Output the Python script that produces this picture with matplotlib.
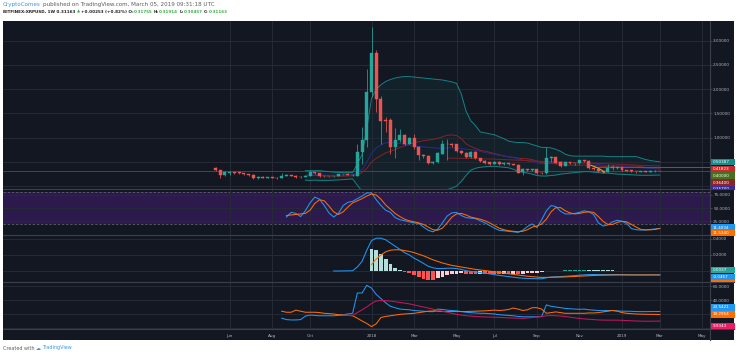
import numpy as np
import pandas as pd
import matplotlib
matplotlib.use('Agg')
import matplotlib.pyplot as plt
import matplotlib.dates as mdates
from matplotlib.patches import Rectangle
from matplotlib.lines import Line2D
from matplotlib.transforms import Bbox
from matplotlib.ticker import FuncFormatter

# ---------------- data (weekly XRPUSD, Bitfinex) ----------------
first_week = '2017-05-15'
opens = [0.38, 0.33, 0.23, 0.28, 0.285, 0.29, 0.27, 0.245, 0.225, 0.16,
         0.195, 0.175, 0.185, 0.175, 0.16, 0.21, 0.235, 0.22, 0.195, 0.19,
         0.21, 0.29, 0.27, 0.21, 0.205, 0.20, 0.215, 0.245, 0.255, 0.24,
         0.22, 0.70, 0.96, 1.95, 2.75, 1.80, 1.36, 1.36, 0.81, 0.95,
         1.05, 0.88, 1.00, 0.81, 0.65, 0.63, 0.47, 0.49, 0.67, 0.86,
         0.87, 0.86, 0.73, 0.68, 0.60, 0.70, 0.58, 0.52, 0.49, 0.46,
         0.50, 0.46, 0.47, 0.455, 0.44, 0.285, 0.35, 0.33, 0.35, 0.28,
         0.27, 0.58, 0.60, 0.49, 0.42, 0.49, 0.47, 0.475, 0.53, 0.51,
         0.38, 0.35, 0.31, 0.29, 0.385, 0.38, 0.395, 0.33, 0.325, 0.31,
         0.30, 0.305, 0.30, 0.31, 0.31755]
highs = [0.40, 0.34, 0.31, 0.31, 0.30, 0.30, 0.28, 0.26, 0.25, 0.21,
         0.20, 0.195, 0.19, 0.19, 0.28, 0.26, 0.24, 0.225, 0.20, 0.215,
         0.31, 0.30, 0.28, 0.215, 0.21, 0.22, 0.25, 0.26, 0.27, 0.26,
         0.88, 1.23, 2.42, 3.29, 2.80, 1.87, 1.43, 1.40, 1.21, 1.18,
         1.08, 1.02, 1.07, 0.82, 0.67, 0.64, 0.52, 0.70, 0.95, 0.97,
         0.90, 0.88, 0.75, 0.70, 0.72, 0.72, 0.59, 0.55, 0.50, 0.51,
         0.51, 0.49, 0.48, 0.46, 0.45, 0.37, 0.36, 0.36, 0.36, 0.30,
         0.81, 0.63, 0.61, 0.52, 0.50, 0.49, 0.48, 0.55, 0.54, 0.53,
         0.40, 0.36, 0.32, 0.46, 0.43, 0.40, 0.40, 0.34, 0.33, 0.32,
         0.31, 0.31, 0.34, 0.33, 0.31914]
lows = [0.31, 0.16, 0.20, 0.23, 0.25, 0.25, 0.24, 0.22, 0.15, 0.15,
        0.165, 0.16, 0.165, 0.15, 0.16, 0.20, 0.20, 0.16, 0.17, 0.185,
        0.20, 0.25, 0.19, 0.19, 0.19, 0.19, 0.21, 0.23, 0.23, 0.20,
        0.21, 0.45, 0.81, 1.84, 1.53, 0.88, 1.12, 0.67, 0.58, 0.91,
        0.84, 0.86, 0.77, 0.55, 0.59, 0.45, 0.45, 0.48, 0.66, 0.55,
        0.80, 0.70, 0.66, 0.58, 0.59, 0.56, 0.50, 0.46, 0.43, 0.45,
        0.44, 0.44, 0.44, 0.43, 0.27, 0.24, 0.32, 0.32, 0.26, 0.25,
        0.26, 0.50, 0.47, 0.40, 0.41, 0.45, 0.44, 0.46, 0.49, 0.35,
        0.34, 0.30, 0.28, 0.29, 0.34, 0.35, 0.32, 0.31, 0.30, 0.28,
        0.29, 0.29, 0.29, 0.30, 0.30457]
closes = [0.33, 0.23, 0.29, 0.285, 0.27, 0.27, 0.255, 0.225, 0.16, 0.195,
          0.175, 0.185, 0.17, 0.16, 0.21, 0.235, 0.22, 0.18, 0.185, 0.205,
          0.29, 0.27, 0.21, 0.205, 0.20, 0.215, 0.245, 0.248, 0.24, 0.225,
          0.70, 0.96, 1.95, 2.75, 1.79, 1.34, 1.35, 0.81, 0.95, 1.06,
          0.88, 1.00, 0.81, 0.64, 0.62, 0.47, 0.50, 0.68, 0.86, 0.87,
          0.84, 0.72, 0.68, 0.60, 0.70, 0.58, 0.52, 0.48, 0.46, 0.50,
          0.46, 0.47, 0.455, 0.44, 0.28, 0.35, 0.33, 0.35, 0.27, 0.27,
          0.58, 0.60, 0.48, 0.42, 0.49, 0.47, 0.475, 0.53, 0.51, 0.37,
          0.35, 0.31, 0.29, 0.38, 0.395, 0.395, 0.33, 0.32, 0.31, 0.305,
          0.305, 0.30, 0.31, 0.318, 0.31163]

# Bollinger bands (from week index 19)
bb_start = 19
bb_basis = [0.222, 0.220, 0.222, 0.218, 0.214, 0.210, 0.208, 0.207, 0.208, 0.212, 0.214,
            0.240, 0.279, 0.368, 0.497, 0.576, 0.631, 0.688, 0.719, 0.758, 0.800,
            0.830, 0.866, 0.896, 0.918, 0.939, 0.952, 0.965, 0.986, 1.017, 1.050,
            1.057, 1.045, 0.981, 0.874, 0.819, 0.781, 0.740, 0.723, 0.699, 0.671,
            0.650, 0.623, 0.605, 0.595, 0.578, 0.572, 0.564, 0.547, 0.518, 0.488,
            0.475, 0.469, 0.459, 0.450, 0.439, 0.434, 0.432, 0.434, 0.437, 0.430,
            0.425, 0.417, 0.408, 0.405, 0.411, 0.413, 0.413, 0.412, 0.414, 0.416,
            0.402, 0.387, 0.378, 0.373, 0.364]
bb_upper = [0.32, 0.32, 0.32, 0.32, 0.31, 0.30, 0.29, 0.285, 0.28, 0.28, 0.28,
            0.46, 0.65, 1.19, 1.81, 2.00, 2.09, 2.16, 2.20, 2.23, 2.25,
            2.26, 2.26, 2.25, 2.24, 2.23, 2.22, 2.21, 2.20, 2.19, 2.17,
            2.15, 2.12, 1.90, 1.55, 1.35, 1.25, 1.12, 1.10, 1.08, 1.06,
            1.02, 0.98, 0.93, 0.91, 0.90, 0.90, 0.89, 0.86, 0.83, 0.80,
            0.80, 0.79, 0.76, 0.72, 0.66, 0.63, 0.62, 0.62, 0.62, 0.62,
            0.62, 0.62, 0.62, 0.61, 0.61, 0.61, 0.61, 0.61, 0.61, 0.61,
            0.58, 0.55, 0.53, 0.515, 0.50387]
bb_lower = [0.125, 0.12, 0.125, 0.12, 0.12, 0.12, 0.125, 0.13, 0.135, 0.145, 0.15,
            0.02, -0.10, -0.45, -0.82, -0.85, -0.83, -0.78, -0.76, -0.71, -0.65,
            -0.60, -0.53, -0.46, -0.40, -0.35, -0.32, -0.28, -0.23, -0.16, -0.07,
            -0.04, 0.0, 0.10, 0.22, 0.33, 0.37, 0.39, 0.40, 0.41, 0.41,
            0.40, 0.39, 0.38, 0.35, 0.31, 0.29, 0.27, 0.25, 0.22, 0.21,
            0.21, 0.22, 0.23, 0.25, 0.26, 0.27, 0.28, 0.29, 0.30, 0.30,
            0.29, 0.28, 0.27, 0.27, 0.26, 0.25, 0.245, 0.24, 0.235, 0.23,
            0.225, 0.225, 0.225, 0.228, 0.23]
# moving average (navy), from week 19
ma_start = 19
ma_navy = [0.222, 0.228, 0.232, 0.230, 0.227, 0.225, 0.224, 0.226, 0.228, 0.229, 0.229,
           0.274, 0.339, 0.492, 0.680, 0.790, 0.850, 0.895, 0.905, 0.895, 0.880,
           0.862, 0.845, 0.830, 0.820, 0.812, 0.802, 0.792, 0.783, 0.785, 0.790,
           0.792, 0.787, 0.778, 0.763, 0.755, 0.738, 0.718, 0.696, 0.674, 0.657,
           0.639, 0.623, 0.607, 0.591, 0.561, 0.541, 0.521, 0.505, 0.482, 0.462,
           0.473, 0.485, 0.484, 0.478, 0.479, 0.478, 0.478, 0.483, 0.486, 0.475,
           0.463, 0.448, 0.433, 0.428, 0.425, 0.422, 0.413, 0.404, 0.395, 0.387,
           0.379, 0.372, 0.366, 0.361, 0.357]
# slow moving average (red), from week 49
sma_start = 49
sma_red = [0.578, 0.578, 0.577, 0.576, 0.574, 0.572, 0.570, 0.567, 0.564, 0.561, 0.557,
           0.553, 0.549, 0.545, 0.541, 0.536, 0.532, 0.527, 0.522, 0.517, 0.512,
           0.508, 0.504, 0.500, 0.496, 0.493, 0.490, 0.487, 0.484, 0.481, 0.478,
           0.475, 0.471, 0.467, 0.463, 0.459, 0.455, 0.451, 0.446, 0.441, 0.436,
           0.431, 0.427, 0.424, 0.421, 0.41823]
level_price = 0.40
level_from = '2018-11-26'
drawn_dates = ['2018-11-22', '2018-11-28', '2018-12-03', '2018-12-08', '2018-12-12']
drawn_prices = [0.43, 0.40, 0.37, 0.33, 0.29]

# Stochastic RSI (from week 15)
st_start = 15
stoch_k = [33, 42, 40, 34, 45, 60, 71, 67, 55, 41,
           33, 40, 55, 61, 63, 68, 73, 79, 79, 66,
           55, 46, 42, 32, 28, 26, 24, 22, 21, 14,
           8, 5, 10, 22, 35, 41, 42, 36, 32, 31,
           30, 26, 22, 17, 12, 8, 7, 6, 5, 4,
           8, 15, 20, 13, 28, 45, 55, 53, 44, 39,
           39, 40, 42, 45, 43, 38, 22, 16, 18, 24,
           27, 25, 21, 11, 9, 8.5, 8.5, 9.5, 10.5, 11.4034]
stoch_d = [36, 37, 38, 39, 40, 46, 59, 66, 64, 54,
           43, 38, 43, 52, 60, 64, 68, 73, 77, 75,
           67, 56, 48, 40, 34, 29, 26, 24, 22, 19,
           14, 9, 8, 12, 22, 33, 39, 40, 37, 33,
           31, 29, 26, 22, 17, 12, 9, 7, 6, 5,
           6, 9, 14, 16, 20, 29, 43, 51, 51, 45,
           41, 39, 40, 42, 43, 42, 34, 25, 19, 19,
           23, 25, 24, 19, 14, 9.5, 8.7, 8.8, 9.5, 11.534]

# MACD
macd_start = 25
macd_line = [0.0, 0.0, 0.001, 0.002, 0.003, 0.05, 0.12, 0.26, 0.38, 0.41,
             0.41, 0.39, 0.35, 0.31, 0.27, 0.23, 0.20, 0.16, 0.13, 0.095,
             0.06, 0.04, 0.03, 0.03, 0.035, 0.035, 0.03, 0.02, 0.005, -0.005,
             -0.012, -0.02, -0.028, -0.035, -0.045, -0.055, -0.062, -0.07, -0.077, -0.085,
             -0.09, -0.093, -0.095, -0.097, -0.098, -0.085, -0.075, -0.072, -0.07, -0.066,
             -0.062, -0.058, -0.052, -0.048, -0.045, -0.044, -0.044, -0.045, -0.045, -0.044,
             -0.044, -0.045, -0.046, -0.047, -0.048, -0.048, -0.048, -0.047, -0.047, -0.0467]
sig_start = 33
signal_line = [0.08, 0.15, 0.20, 0.24, 0.26, 0.265, 0.265, 0.255, 0.245, 0.23,
               0.21, 0.19, 0.165, 0.14, 0.12, 0.10, 0.085, 0.07, 0.06, 0.05,
               0.04, 0.03, 0.02, 0.013, 0.006, -0.002, -0.01, -0.018, -0.026, -0.034,
               -0.042, -0.05, -0.058, -0.065, -0.071, -0.076, -0.08, -0.08, -0.079, -0.078,
               -0.076, -0.074, -0.071, -0.068, -0.065, -0.062, -0.059, -0.056, -0.054, -0.053,
               -0.052, -0.051, -0.05, -0.05, -0.05, -0.05, -0.05, -0.05, -0.05, -0.05,
               -0.05, -0.0504]
hist_start = 33
macd_hist = [0.28, 0.26, 0.21, 0.15, 0.09, 0.04, 0.015, -0.017, -0.03, -0.05,
             -0.075, -0.10, -0.11, -0.11, -0.09, -0.07, -0.05, -0.04, -0.035, -0.03,
             -0.035, -0.035, -0.035, -0.033, -0.034, -0.035, -0.037, -0.037, -0.036, -0.036,
             -0.035, -0.035, -0.032, -0.028, -0.024, -0.021, -0.018, -0.005, 0.004, 0.006,
             0.006, 0.008, 0.009, 0.01, 0.013, 0.014, 0.014, 0.012, 0.01, 0.008,
             0.007, 0.007, 0.006, 0.005, 0.004, 0.003, 0.002, 0.002, 0.002, 0.003,
             0.003, 0.0037]

# DMI
di_start = 14
di_plus = [14, 12, 11.5, 11.5, 12, 17, 18.5, 18, 17.5, 17.5,
           17.5, 17.5, 18, 19, 20, 21, 50, 50, 61, 57,
           48, 42, 36, 31, 29, 27, 26.5, 26, 25, 24.5,
           24, 23.5, 23.3, 27, 26.5, 25.5, 25, 24.5, 23.5, 22.5,
           22, 21.5, 21, 21, 20.5, 20, 19, 18.5, 18, 17.5,
           16.5, 16, 16, 16, 16, 16.5, 33, 31, 30, 29,
           28, 27.5, 27, 26.7, 27, 26, 25.5, 25, 24.8, 25,
           25, 24.5, 24, 24, 23.8, 23.5, 23.4, 23.4, 23.5, 23.5,
           23.5421]
di_minus = [24, 22.5, 22.5, 25.5, 24, 22.5, 22.5, 22.5, 22, 21,
            20.5, 20, 19, 18.5, 18, 17.5, 14, 10, 6.5, 2,
            6, 15, 16.5, 17.5, 18.5, 19.5, 20, 20.5, 21, 22,
            23, 24, 24.3, 24, 23.5, 23.5, 23.5, 23.5, 23.5, 23.5,
            23.8, 24, 24.3, 24.5, 25, 25.5, 25, 25.5, 26.5, 28.5,
            27, 25, 26, 29, 29, 27, 21, 22, 23, 22,
            21, 21, 21, 21, 21, 21.5, 21.5, 22, 23, 24,
            25, 24, 22, 21, 20.5, 20, 19.8, 19.6, 19.5, 19.4,
            19.2954]
adx_start = 27
adx = [18.5, 18, 18, 22, 26, 30, 35, 38.5, 39.5, 39,
       38.5, 37.5, 36.5, 35.5, 34.5, 33, 31.5, 30, 28.5, 27,
       25.5, 24, 22.5, 21, 19.5, 18.5, 17.5, 17, 16.5, 16,
       15.8, 15.6, 15.4, 15.2, 14.8, 14.5, 14.2, 14, 13.8, 14.2,
       15, 15.8, 16.2, 17.5, 17.8, 17.5, 17, 16.5, 15.5, 14.5,
       13.8, 13, 12.5, 12, 11.5, 11.3, 11.2, 11.2, 11.2, 11,
       10.6, 10.3, 10, 9.8, 9.7, 9.7, 9.8, 9.9343]

tick_dates = ['2017-06-05', '2017-08-07', '2017-10-02', '2018-01-01', '2018-03-05', '2018-05-07',
              '2018-07-02', '2018-09-03', '2018-11-05', '2019-01-07', '2019-03-04', '2019-05-06']
tick_labels = ['Jun', 'Aug', 'Oct', '2018', 'Mar', 'May', 'Jul', 'Sep', 'Nov', '2019', 'Mar', 'May']

header1 = [('CryptoComes', 'blue'), (' published on TradingView.com, March 05, 2019 09:31:18 UTC', 'grey')]
header2 = [('BITFINEX:XRPUSD, 1W 0.31163', 'dark'), (' \u25B2', 'green'), (' +0.00253 (+0.82%) O:', 'dark'),
           ('0.31755', 'green'), (' H:', 'dark'), ('0.31914', 'green'), (' L:', 'dark'),
           ('0.30457', 'green'), (' C:', 'dark'), ('0.31163', 'green')]
footer = [('Created with', 'grey'), (' \u2601', 'blue'), (' TradingView', 'blue')]

# ---------------- style / layout ----------------
W, H = 736, 355
BG = '#131722'
GRID = '#262a36'
SEP = '#3b3f4b'
TXT = '#b2b5be'
UP, DOWN = '#26a69a', '#ef5350'
BLUE, ORANGE, PINK = '#2196f3', '#ff6d00', '#c2185b'
HEADCOL = {'blue': '#3a96e6', 'grey': '#5d5d5d', 'dark': '#1e1e1e', 'green': '#3fae49'}
X0, X1 = 3, 710


def fx(px):
    return px / W


def fy(py):
    return 1 - py / H


fig = plt.figure(figsize=(W / 100, H / 100), dpi=100)
fig.patch.set_facecolor('white')
bgrect = Rectangle((fx(3), fy(340)), fx(731), (340 - 21) / H, transform=fig.transFigure,
                   facecolor=BG, edgecolor='none', zorder=-5)
fig.add_artist(bgrect)

dates = pd.date_range(first_week, periods=len(closes), freq='W-MON')
xs = mdates.date2num(dates.to_pydatetime())
d_ref1 = mdates.date2num(pd.Timestamp('2018-01-01'))
d_ref2 = mdates.date2num(pd.Timestamp('2019-01-07'))
p_ref1, p_ref2 = 371.5, 622.0
dpp = (d_ref2 - d_ref1) / (p_ref2 - p_ref1)
xlim = (d_ref1 + (X0 - p_ref1) * dpp, d_ref1 + (X1 - p_ref1) * dpp)
tick_x = mdates.date2num(pd.to_datetime(tick_dates).to_pydatetime())


def seg(start, vals):
    v = np.asarray(vals, dtype=float)
    n = min(len(v), len(xs) - start)
    return xs[start:start + n], v[:n]


def ylim_for(top, bot, p1, v1, p2, v2):
    s = (v2 - v1) / (p2 - p1)
    return v1 + (bot - p1) * s, v1 + (top - p1) * s


def make_pane(top, bot, ref, ticks, fmt):
    ax = fig.add_axes([fx(X0), fy(bot), fx(X1 - X0), (bot - top) / H])
    ax.set_facecolor(BG)
    for s in ax.spines.values():
        s.set_visible(False)
    ax.set_xlim(*xlim)
    ax.set_ylim(*ylim_for(top, bot, *ref))
    ax.set_xticks(tick_x)
    ax.set_yticks(ticks)
    ax.yaxis.set_major_formatter(FuncFormatter(fmt))
    ax.yaxis.tick_right()
    ax.tick_params(axis='y', colors='#555a66', labelcolor=TXT, labelsize=3.0, length=1.5,
                   width=0.5, pad=0.8)
    ax.tick_params(axis='x', length=0, labelbottom=False)
    ax.grid(True, color=GRID, linewidth=0.7)
    return ax


ax_p = make_pane(21, 188.8, (137.7, 1.0, 40.7, 3.0), [0, 0.5, 1, 1.5, 2, 2.5, 3],
                 lambda v, p: '' if v < 0.75 else f'{v:.5f}')
ax_r = make_pane(189.3, 235.0, (195.0, 75, 221.3, 25), [25, 50, 75], lambda v, p: f'{v:.4f}')
ax_m = make_pane(235.6, 282.0, (239.0, 0.4, 255.0, 0.2), [0, 0.2, 0.4],
                 lambda v, p: '' if abs(v) < 1e-9 else f'{v:.4f}')
ax_d = make_pane(282.6, 328.8, (286.0, 60, 300.0, 40), [0, 20, 40, 60],
                 lambda v, p: '' if v == 20 else f'{v:.4f}')

# ---- price pane ----
ax_p.axhline(closes[-1], color='#8a3238', linewidth=0.6, zorder=2)
bx, bu = seg(bb_start, bb_upper)
_, bl = seg(bb_start, bb_lower)
_, bm = seg(bb_start, bb_basis)
ax_p.fill_between(bx, bl, bu, color='#198787', alpha=0.09, linewidth=0, zorder=1)
ax_p.plot(bx, bu, color='#138484', linewidth=0.7, zorder=2)
ax_p.plot(bx, bl, color='#138484', linewidth=0.7, zorder=2)
ax_p.plot(bx, bm, color='#872323', linewidth=0.7, zorder=2)
mx, mv = seg(ma_start, ma_navy)
ax_p.plot(mx, mv, color='#2b2a8c', linewidth=0.7, zorder=2)
sx, sv = seg(sma_start, sma_red)
ax_p.plot(sx, sv, color='#7c2226', linewidth=0.7, zorder=2)
ax_p.hlines(level_price, mdates.date2num(pd.Timestamp(level_from)), xlim[1],
            color='#4d6e25', linewidth=0.7, zorder=2)
ax_p.plot(mdates.date2num(pd.to_datetime(drawn_dates).to_pydatetime()), drawn_prices,
          color='#e89a2c', linewidth=0.8, zorder=5)

o = np.array(opens); c = np.array(closes); hi = np.array(highs); lo = np.array(lows)
cols = [UP if cc >= oo else DOWN for oo, cc in zip(o, c)]
ax_p.vlines(xs, lo, hi, colors=cols, linewidth=0.55, zorder=3)
ax_p.bar(xs, np.abs(c - o), bottom=np.minimum(o, c), width=4.4, color=cols,
         edgecolor=cols, linewidth=0.3, zorder=4)

# ---- stoch rsi pane ----
ax_r.axhspan(20, 80, color='#2c1a4d', zorder=0.5, linewidth=0)
for lvl in (20, 80):
    ax_r.axhline(lvl, color='#5d606b', linestyle=(0, (3, 2)), linewidth=0.6, zorder=1)
kx, kv = seg(st_start, stoch_k)
dx_, dv = seg(st_start, stoch_d)
ax_r.plot(kx, kv, color=BLUE, linewidth=0.75, zorder=3)
ax_r.plot(dx_, dv, color=ORANGE, linewidth=0.75, zorder=3)

# ---- macd pane ----
hx, hv = seg(hist_start, macd_hist)
hcols = []
for i, h in enumerate(hv):
    prev = hv[i - 1] if i > 0 else h
    if h >= 0:
        hcols.append('#26a69a' if h > prev else '#b2dfdb')
    else:
        hcols.append('#ffcdd2' if h > prev else '#ff5252')
ax_m.bar(hx, hv, width=5.6, color=hcols, linewidth=0, zorder=2)
mlx, mlv = seg(macd_start, macd_line)
ax_m.plot(mlx, mlv, color=BLUE, linewidth=0.75, zorder=3)
slx, slv = seg(sig_start, signal_line)
ax_m.plot(slx, slv, color=ORANGE, linewidth=0.75, zorder=3)

# ---- dmi pane ----
px_, pv = seg(di_start, di_plus)
nx_, nv = seg(di_start, di_minus)
ax_x, av = seg(adx_start, adx)
ax_d.plot(px_, pv, color=BLUE, linewidth=0.75, zorder=3)
ax_d.plot(nx_, nv, color=ORANGE, linewidth=0.75, zorder=3)
ax_d.plot(ax_x, av, color=PINK, linewidth=0.75, zorder=3)
ax_d.set_xticklabels(tick_labels)
ax_d.tick_params(axis='x', labelbottom=True, labelsize=3.0, labelcolor=TXT, pad=3.6)

# ---- separators ----
for yy in (188.9, 235.3, 282.3, 328.9):
    fig.add_artist(Line2D([fx(3), fx(734)], [fy(yy), fy(yy)], transform=fig.transFigure,
                          color=SEP, linewidth=0.8, zorder=2))
fig.add_artist(Line2D([fx(710.3), fx(710.3)], [fy(21), fy(340)], transform=fig.transFigure,
                      color=SEP, linewidth=0.8, zorder=2))


# ---- right axis value labels ----
def value_label(text, color, yc, clip_top, clip_bot):
    clip = Bbox.from_extents(0, H - clip_bot, W, H - clip_top)
    r = Rectangle((fx(711), fy(yc + 3.2)), fx(23.5), 6.4 / H, transform=fig.transFigure,
                  facecolor=color, edgecolor='none', zorder=5)
    fig.add_artist(r)
    r.set_clip_box(clip)
    t = fig.text(fx(713), fy(yc), text, color='white', fontsize=3.0, va='center', ha='left', zorder=6)
    t.set_clip_box(clip)
    t.set_clip_on(True)


price_labels = [(f'{bb_upper[-1]:.5f}', '#178a8a', 161.9), (f'{sma_red[-1]:.5f}', '#c62a2a', 168.8),
                (f'{level_price:.5f}', '#46701e', 175.6), (f'{bb_basis[-1]:.5f}', '#8b2525', 182.5),
                (f'{ma_navy[-1]:.5f}', '#3b2c9b', 189.3)]
for t_, col, yc in price_labels:
    value_label(t_, col, yc, 21, 188.8)
rsi_labels = [(f'{stoch_k[-1]:.4f}', BLUE, 227.6), (f'{stoch_d[-1]:.4f}', ORANGE, 233.4)]
for t_, col, yc in rsi_labels:
    value_label(t_, col, yc, 189.3, 235.6)
macd_labels = [(f'{macd_hist[-1]:.4f}', '#26a69a', 270.1), (f'{macd_line[-1]:.4f}', BLUE, 277.0),
               (f'{signal_line[-1]:.4f}', ORANGE, 283.6)]
for t_, col, yc in macd_labels:
    value_label(t_, col, yc, 235.6, 282.0)
dmi_labels = [(f'{di_plus[-1]:.4f}', BLUE, 307.3), (f'{di_minus[-1]:.4f}', ORANGE, 314.3),
              (f'{adx[-1]:.4f}', '#e91e63', 326.0)]
for t_, col, yc in dmi_labels:
    value_label(t_, col, yc, 282.6, 329.5)

# ---- header & footer text ----
renderer = fig.canvas.get_renderer()


def text_width(s, size, weight):
    t = fig.text(0, 0, s, fontsize=size, weight=weight)
    w = t.get_window_extent(renderer).width
    t.remove()
    return w


def text_line(pieces, x_px, y_px, target_w, weight='normal', base=4.0):
    full = ''.join(p for p, _ in pieces)
    size = base * target_w / text_width(full, base, weight)
    w_bar = text_width('|', size, weight)
    prefix = ''
    for s, ck in pieces:
        n_lead = len(s) - len(s.lstrip(' '))
        lead = prefix + s[:n_lead]
        pen = (text_width(lead + '|', size, weight) - w_bar) if lead else 0.0
        fig.text(fx(x_px + pen), fy(y_px), s.strip(' '), fontsize=size, weight=weight,
                 color=HEADCOL[ck], ha='left', va='center')
        prefix += s


text_line(header1, 3, 4.8, 212)
text_line(header2, 3, 11.6, 224, weight='bold')
text_line(footer, 3, 348.0, 68)

fig.savefig('out.png', dpi=100, facecolor='white')
